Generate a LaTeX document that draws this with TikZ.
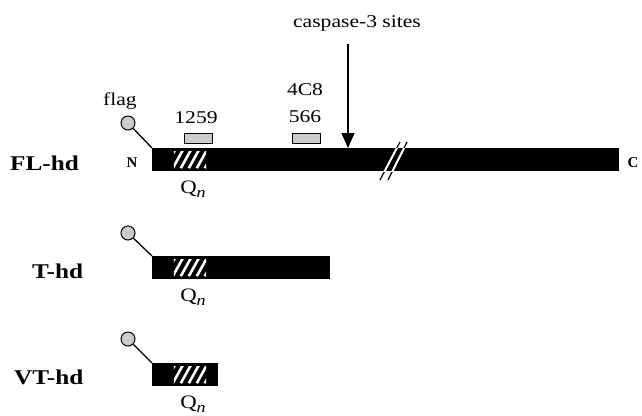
\documentclass[tikz,border=0pt]{standalone}
\usepackage{fontspec}
\setmainfont{Liberation Serif}[FakeStretch=1.2]
\newfontfamily\plainserif{Liberation Serif}
\usetikzlibrary{arrows.meta}
\tikzset{
  protbar/.style={fill=black, draw=none, rectangle, inner sep=0pt, anchor=north west},
  epi/.style={draw=black, fill=gray!40, line width=0.8pt, rectangle, inner sep=0pt, minimum width=28pt, minimum height=10pt},
  tagball/.style={draw=black, fill=gray!40, line width=1pt, circle, inner sep=0pt, minimum size=14pt},
  hatchbox/.style={fill=black, draw=none, rectangle, inner sep=0pt, minimum width=32pt, minimum height=16pt},
  lbl/.style={font=\fontsize{18}{18}\selectfont, inner sep=0pt},
  cname/.style={font=\bfseries\fontsize{21}{21}\selectfont, inner sep=0pt, anchor=west},
  term/.style={font=\plainserif\bfseries\fontsize{15}{15}\selectfont, inner sep=0pt},
  link/.style={line width=1.3pt},
}
\newcommand{\Qn}{{\fontsize{19}{19}\selectfont Q}\raisebox{-0.5ex}{\fontsize{15}{15}\selectfont\itshape n}}
\newcommand{\hatchit}[1]{%
  \begin{scope}
    \clip (#1.south west) rectangle (#1.north east);
    \foreach \d in {-9,-1,...,31}
      \draw[white, line width=2.6pt] ([xshift=\d pt]#1.south west) -- ++(10pt,18pt);
  \end{scope}}
\begin{document}
\begin{tikzpicture}[x=1pt,y=-1pt]
\useasboundingbox (0,0) rectangle (642,415);
% FL-hd
\node[protbar, minimum width=467pt, minimum height=23pt] (fl) at (152,148) {};
\node[tagball] (f1) at (128,123) {};
\draw[link] (f1) -- (fl.north west);
\node[hatchbox] (q1) at (190,160) {};
\hatchit{q1}
\node[epi] (e1) at (198.5,138) {};
\node[epi] (e2) at (306,138) {};
\node[lbl] (flagt) at (120,101) {flag};
\node[lbl] (t1259) at (196,118) {1259};
\node[lbl] (t4c8) at (305,90) {4C8};
\node[lbl] (t566) at (305,117) {566};
\node[lbl] (qn1) at (193,189) {\Qn};
\node[term] (nt) at (132,163) {N};
\node[term] (ct) at (633,163) {C};
\node[cname] (flname) at (10,163) {FL-hd};
% caspase arrow
\node[lbl] (casp) at (357,23) {caspase-3 sites};
\coordinate (cs0) at (348,44);
\coordinate (cs1) at (348,148);
\draw[line width=1.2pt, -{Triangle[width=13pt,length=15pt]}] (cs0) -- (cs1);
% break marks
\coordinate (b1a) at (380,180); \coordinate (b1b) at (400,142);
\coordinate (b2a) at (388,180); \coordinate (b2b) at (407,142);
\draw[line width=1.2pt] (b1a) -- (b1b);
\draw[line width=1.2pt] (b2a) -- (b2b);
\begin{scope}
  \clip (fl.south west) rectangle (fl.north east);
  \draw[white, line width=2pt] (b1a) -- (b1b);
  \draw[white, line width=2pt] (b2a) -- (b2b);
\end{scope}
% T-hd
\node[protbar, minimum width=178pt, minimum height=23pt] (tb) at (152,256) {};
\node[tagball] (f2) at (128,233) {};
\draw[link] (f2) -- (tb.north west);
\node[hatchbox] (q2) at (190,268) {};
\hatchit{q2}
\node[lbl] (qn2) at (193,297) {\Qn};
\node[cname] (tname) at (32,271) {T-hd};
% VT-hd
\node[protbar, minimum width=66pt, minimum height=23pt] (vb) at (152,363) {};
\node[tagball] (f3) at (128,339) {};
\draw[link] (f3) -- (vb.north west);
\node[hatchbox] (q3) at (190,375) {};
\hatchit{q3}
\node[lbl] (qn3) at (193,404) {\Qn};
\node[cname] (vname) at (14,377) {VT-hd};
\end{tikzpicture}
\end{document}
